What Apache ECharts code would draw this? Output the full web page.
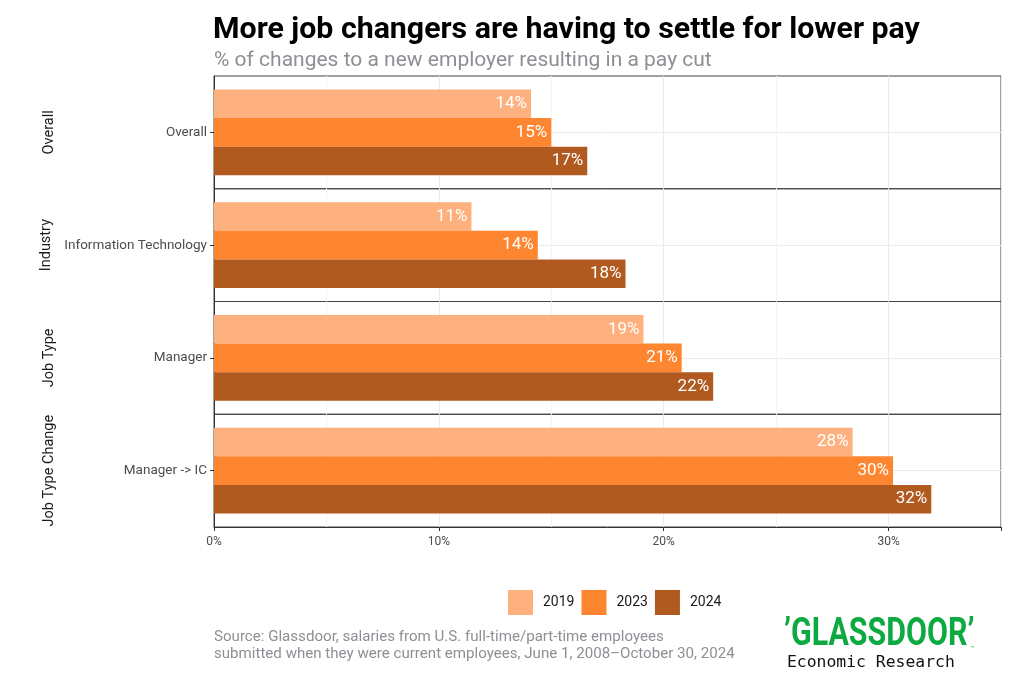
<!DOCTYPE html>
<html><head><meta charset="utf-8">
<script src="https://cdn.jsdelivr.net/npm/echarts@6/dist/echarts.min.js"></script>
<style>html,body{margin:0;padding:0;background:#fff}#c{width:1023px;height:682px}</style>
</head><body><div id="c"></div>
<script>
const categories = ['Overall', 'Information Technology', 'Manager', 'Manager -> IC'];
const groups = ['Overall', 'Industry', 'Job Type', 'Job Type Change'];
const years = ['2019', '2023', '2024'];
const v2019 = [14.1, 11.45, 19.1, 28.4];
const v2023 = [15.0, 14.4, 20.8, 30.2];
const v2024 = [16.6, 18.3, 22.2, 31.9];
const xTicks = [0, 10, 20, 30];
const colors = ['#FEB17E', '#FE8630', '#B05A20'];

const chart = echarts.init(document.getElementById('c'), null, {renderer: 'canvas'});
const FONT = 'Roboto';
const panelTop = 76, panelH = 112.75, left = 214, width = 787;

const grids = [], xAxes = [], yAxes = [], series = [];
const vals = [v2019, v2023, v2024];
categories.forEach((cat, i) => {
  grids.push({left: left, width: width, top: panelTop + i * panelH, height: panelH,
    show: true, borderColor: '#444', borderWidth: 1, backgroundColor: 'transparent'});
  const last = i === categories.length - 1;
  xAxes.push({type: 'value', gridIndex: i, min: 0, max: 35, interval: 10,
    axisLine: {show: last, onZero: false, lineStyle: {color: '#333'}},
    axisTick: {show: last, length: 4, lineStyle: {color: '#333'}},
    axisLabel: {show: last, color: '#4d4d4d', fontFamily: FONT, fontSize: 12, margin: 9,
      formatter: v => xTicks.includes(v) ? v + '%' : ''},
    splitLine: {show: true, showMinLine: false, lineStyle: {color: '#ebebeb', width: 1}},
    minorTick: {show: false, splitNumber: 2},
    minorSplitLine: {show: true, lineStyle: {color: '#f4f4f4', width: 1}}
  });
  yAxes.push({type: 'category', gridIndex: i, data: [cat], inverse: true,
    axisLine: {show: true, lineStyle: {color: '#333'}},
    axisTick: {show: true, length: 4, alignWithLabel: true, lineStyle: {color: '#333'}},
    axisLabel: {color: '#4d4d4d', fontFamily: FONT, fontSize: 13.5, margin: 7},
    splitLine: {show: false},
    name: groups[i], nameLocation: 'middle', nameRotate: 90, nameGap: 157,
    nameTextStyle: {color: '#1a1a1a', fontFamily: FONT, fontSize: 14.5}
  });
  yAxes.push({type: 'value', gridIndex: i, min: 0, max: 2, interval: 1,
    axisLine: {show: false}, axisTick: {show: false}, axisLabel: {show: false},
    splitLine: {show: true, showMinLine: false, showMaxLine: false,
      lineStyle: {color: '#ebebeb', width: 1}}});
  years.forEach((y, k) => {
    series.push({type: 'bar', name: y, xAxisIndex: i, yAxisIndex: i * 2,
      data: [vals[k][i]], barGap: '0%', barCategoryGap: '24%',
      itemStyle: {color: colors[k]},
      label: {show: true, position: 'insideRight', distance: 4, color: '#fff',
        fontFamily: FONT, fontSize: 17, formatter: p => Math.round(p.value) + '%'},
      emphasis: {disabled: true}, animation: false});
  });
});

chart.setOption({
  animation: false,
  textStyle: {fontFamily: FONT},
  title: [
    {text: 'More job changers are having to settle for lower pay', left: 213, top: 15, padding: 0,
      textStyle: {fontFamily: FONT, fontWeight: 'bold', fontSize: 30.3, color: '#000'}},
    {text: '% of changes to a new employer resulting in a pay cut', left: 214, top: 50, padding: 0,
      textStyle: {fontFamily: FONT, fontWeight: 'normal', fontSize: 21, color: '#8c8f94'}},
    {text: 'Source: Glassdoor, salaries from U.S. full-time/part-time employees\nsubmitted when they were current employees, June 1, 2008–October 30, 2024',
      left: 214, top: 629, padding: 0,
      textStyle: {fontFamily: FONT, fontWeight: 'normal', fontSize: 15.1, lineHeight: 17, color: '#8c8f94'}},
    {text: 'Economic Research', left: 787, top: 655, padding: 0,
      textStyle: {fontFamily: 'DejaVu Sans Mono', fontWeight: 'normal', fontSize: 16.4, color: '#111'}}
  ],
  graphic: [
    {type: 'text', left: 784, top: 616, scaleX: 0.8, silent: true,
      style: {text: '’GLASSDOOR’', font: 'bold 38px Roboto', fill: '#0CAA41'}},
    {type: 'text', left: 971, top: 645, silent: true,
      style: {text: '™', font: '6px Roboto', fill: '#0CAA41'}}
  ],
  legend: {data: years, left: 508, top: 590, padding: 0, icon: 'rect', itemWidth: 25, itemHeight: 25,
    itemGap: 7, selectedMode: false,
    textStyle: {fontFamily: FONT, fontSize: 14, color: '#1a1a1a', padding: [0, 0, 0, 5]}},
  grid: grids, xAxis: xAxes, yAxis: yAxes, series: series
});
</script></body></html>
